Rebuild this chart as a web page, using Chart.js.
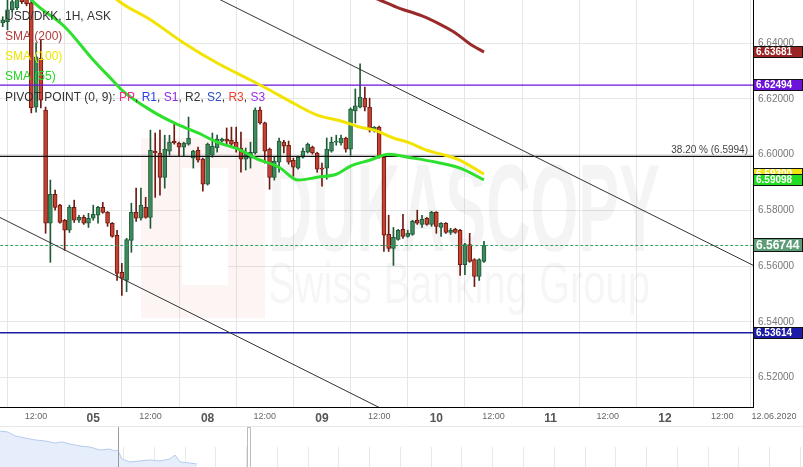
<!DOCTYPE html>
<html>
<head>
<meta charset="utf-8">
<script src="https://cdn.jsdelivr.net/npm/chart.js@4.4.1/dist/chart.umd.min.js"></script>
<style>
  html, body { margin: 0; padding: 0; background: #fff; overflow: hidden; }
  #main { position: absolute; left: 0; top: 0; width: 803px; height: 425px; }
  #nav { position: absolute; left: 0; top: 425px; width: 803px; height: 42px; }
</style>
</head>
<body>
<div id="main"><canvas id="chartMain"></canvas></div>
<div id="nav"><canvas id="chartNav"></canvas></div>
<script>
Chart.defaults.font.family = "'Liberation Sans', Arial, sans-serif";
Chart.defaults.color = '#666';

// USD/DKK 1H candles, index 0 = 04.06 05:00 (weekend squeezed out)
const opens = [
  6.6473, 6.6477, 6.6520, 6.6527, 6.6567, 6.6563, 6.6545, 6.6171, 6.6347, 6.6160,
  6.5754, 6.5858, 6.5819, 6.5765, 6.5729, 6.5811, 6.5765, 6.5775, 6.5754, 6.5772,
  6.5783, 6.5811, 6.5793, 6.5754, 6.5711, 6.5578, 6.5549, 6.5693, 6.5793, 6.5772,
  6.5811, 6.5775, 6.6013, 6.6006, 6.5919, 6.6013, 6.6049, 6.6042, 6.6027, 6.6038,
  6.5988, 6.6016, 6.5984, 6.5894, 6.5998, 6.6024, 6.6049, 6.6056, 6.6052, 6.6045,
  6.6024, 6.5984, 6.5988, 6.6006, 6.6160, 6.6114, 6.6020, 6.5919, 6.5973, 6.6045,
  6.6034, 6.5980, 6.5952, 6.5991, 6.6009, 6.6027, 6.6006, 6.5952, 6.5952, 6.6013,
  6.6045, 6.6042, 6.6060, 6.6020, 6.6157, 6.6171, 6.6203, 6.6171, 6.6088, 6.6099,
  6.5991, 6.5714, 6.5664, 6.5696, 6.5732, 6.5707, 6.5714, 6.5765, 6.5750, 6.5772,
  6.5750, 6.5793, 6.5739, 6.5754, 6.5721, 6.5732, 6.5729, 6.5606, 6.5678, 6.5624,
  6.5563, 6.5617
];
const highs = [
  6.6495, 6.6563, 6.6574, 6.6585, 6.6592, 6.6585, 6.6563, 6.6401, 6.6412, 6.6171,
  6.5909, 6.5873, 6.5822, 6.5768, 6.5819, 6.5837, 6.5783, 6.5783, 6.5790, 6.5819,
  6.5815, 6.5829, 6.5796, 6.5757, 6.5729, 6.5610, 6.5700, 6.5826, 6.5880, 6.5880,
  6.5847, 6.6088, 6.6078, 6.6088, 6.6070, 6.6070, 6.6114, 6.6045, 6.6045, 6.6135,
  6.6016, 6.6027, 6.5988, 6.6042, 6.6078, 6.6070, 6.6060, 6.6096, 6.6099, 6.6099,
  6.6081, 6.6024, 6.6045, 6.6168, 6.6171, 6.6117, 6.6024, 6.5991, 6.6060, 6.6052,
  6.6049, 6.5988, 6.5995, 6.6024, 6.6042, 6.6031, 6.6009, 6.5970, 6.6060, 6.6063,
  6.6070, 6.6070, 6.6063, 6.6168, 6.6236, 6.6326, 6.6243, 6.6203, 6.6101, 6.6103,
  6.5998, 6.5783, 6.5739, 6.5732, 6.5786, 6.5729, 6.5765, 6.5801, 6.5783, 6.5775,
  6.5797, 6.5796, 6.5757, 6.5757, 6.5736, 6.5736, 6.5732, 6.5682, 6.5718, 6.5627,
  6.5627, 6.5689
];
const lows = [
  6.6459, 6.6448, 6.6513, 6.6520, 6.6542, 6.6534, 6.6150, 6.6153, 6.6168, 6.5718,
  6.5614, 6.5801, 6.5754, 6.5657, 6.5721, 6.5757, 6.5757, 6.5750, 6.5739, 6.5765,
  6.5754, 6.5790, 6.5743, 6.5704, 6.5549, 6.5495, 6.5509, 6.5650, 6.5761, 6.5765,
  6.5772, 6.5736, 6.5847, 6.5855, 6.5880, 6.5998, 6.6038, 6.5995, 6.5995, 6.6034,
  6.5952, 6.5973, 6.5869, 6.5891, 6.5991, 6.6009, 6.6045, 6.6034, 6.6031, 6.6009,
  6.5937, 6.5945, 6.5952, 6.6002, 6.6110, 6.5970, 6.5876, 6.5909, 6.5937, 6.6006,
  6.5966, 6.5923, 6.5948, 6.5988, 6.6006, 6.6002, 6.5937, 6.5887, 6.5912, 6.6009,
  6.6034, 6.6034, 6.6009, 6.5998, 6.6114, 6.6168, 6.6157, 6.6081, 6.6081, 6.5988,
  6.5653, 6.5653, 6.5603, 6.5693, 6.5700, 6.5704, 6.5711, 6.5750, 6.5739, 6.5747,
  6.5743, 6.5718, 6.5707, 6.5718, 6.5714, 6.5718, 6.5567, 6.5570, 6.5614, 6.5527,
  6.5549, 6.5614
];
const closes = [
  6.6484, 6.6520, 6.6549, 6.6567, 6.6549, 6.6542, 6.6168, 6.6351, 6.6196, 6.5754,
  6.5858, 6.5811, 6.5757, 6.5729, 6.5811, 6.5765, 6.5775, 6.5754, 6.5772, 6.5786,
  6.5811, 6.5793, 6.5754, 6.5707, 6.5574, 6.5556, 6.5696, 6.5793, 6.5772, 6.5819,
  6.5775, 6.6016, 6.6006, 6.5919, 6.6020, 6.6045, 6.6042, 6.6027, 6.6042, 6.6060,
  6.6013, 6.5980, 6.5894, 6.6038, 6.6031, 6.6056, 6.6056, 6.6049, 6.6038, 6.6024,
  6.5984, 6.6006, 6.6009, 6.6160, 6.6114, 6.6013, 6.5919, 6.5977, 6.6049, 6.6031,
  6.5973, 6.5955, 6.5991, 6.6013, 6.6038, 6.6006, 6.5948, 6.5948, 6.6020, 6.6045,
  6.6049, 6.6060, 6.6020, 6.6164, 6.6175, 6.6207, 6.6171, 6.6088, 6.6099, 6.5991,
  6.5711, 6.5664, 6.5704, 6.5729, 6.5707, 6.5718, 6.5761, 6.5754, 6.5768, 6.5750,
  6.5793, 6.5743, 6.5754, 6.5721, 6.5729, 6.5721, 6.5606, 6.5678, 6.5617, 6.5563,
  6.5624, 6.56744
];

// moving averages (x = candle index)
const sma200X = [75, 79, 83, 88, 92, 95, 98, 101];
const sma200 = [6.6578, 6.6556, 6.6527, 6.6498, 6.6466, 6.6437, 6.6398, 6.63681];
const sma100X = [18, 24, 31, 38, 45, 52, 56, 61, 66, 71, 75, 78, 82, 85, 89, 92, 96, 101];
const sma100 = [6.6664, 6.6556, 6.6484, 6.6401, 6.6329, 6.6268, 6.6232, 6.6185, 6.6142, 6.6121,
                6.6099, 6.6088, 6.6060, 6.6045, 6.6016, 6.6002, 6.5980, 6.5930];
const sma55X = [3, 6, 13, 19, 23, 25, 31, 36, 41, 45, 50, 53, 58, 62, 66, 70, 73, 77, 81, 85, 91, 96, 101];
const sma55 = [6.6628, 6.6556, 6.6459, 6.6340, 6.6268, 6.6232, 6.6160, 6.6114, 6.6078, 6.6045,
               6.6016, 6.5988, 6.5955, 6.5909, 6.5919, 6.5930, 6.5959, 6.5980, 6.6002, 6.5991,
               6.5973, 6.5952, 6.59098];

// trend channel
const channelUpX = [40, 160];
const channelUp = [6.6604, 6.5582];
const channelLowX = [-2, 85];
const channelLow = [6.5787, 6.5042];

// levels
const fibLevel = 6.5994;
const pivotR = 6.62494;
const pivotS = 6.53614;
const lastPrice = closes[closes.length - 1];

const yTicks = [6.52, 6.54, 6.56, 6.58, 6.60, 6.62, 6.64];
const xTickValues = [7, 19, 31, 43, 55, 67, 79, 91, 103, 115, 127, 139, 151];
const xTickLabels = ['12:00', '05', '12:00', '08', '12:00', '09', '12:00', '10', '12:00', '11', '12:00', '12', '12:00'];
const endDateLabel = '12.06.2020';

// navigator strip
const navX = [0, 0.26, 0.49, 0.81, 1.14, 1.46, 1.79, 2.01, 2.27, 2.6, 2.92, 3.25, 3.57, 3.74, 3.83,
              3.96, 4.22, 4.55, 4.87, 5.2, 5.52, 5.69, 5.85, 6.17, 6.4];
const navVals = [6.714, 6.708, 6.685, 6.673, 6.661, 6.655, 6.643, 6.649, 6.637, 6.625, 6.619, 6.601, 6.607, 6.595, 6.601,
                 6.548, 6.530, 6.536, 6.542, 6.536, 6.548, 6.571, 6.530, 6.524, 6.518];

const X_MIN = -0.57, X_MAX = 157.46;

const upFill = '#3d8a5c', upLine = '#1f5a38';
const downFill = '#c7412f', downLine = '#6e1a12';
const isUp = i => closes[i] >= opens[i];

function levelLine(value, color, width, dash) {
    return {
        type: 'line',
        data: [{ x: X_MIN - 1, y: value }, { x: X_MAX + 1, y: value }],
        borderColor: color,
        borderWidth: width,
        borderDash: dash || [],
        pointRadius: 0,
        order: 2
    };
}

function smaLine(xs, ys, color) {
    return {
        type: 'line',
        data: xs.map((x, i) => ({ x: x, y: ys[i] })),
        borderColor: color,
        borderWidth: 3,
        pointRadius: 0,
        cubicInterpolationMode: 'monotone',
        order: 1
    };
}

const overlayPlugin = {
    id: 'overlay',
    beforeDatasetsDraw(chart) {
        const { ctx, chartArea: a } = chart;
        ctx.save();
        ctx.beginPath();
        ctx.rect(a.left, a.top, a.right - a.left, a.bottom - a.top);
        ctx.clip();
        // logo
        ctx.fillStyle = 'rgba(225, 70, 70, 0.06)';
        ctx.fillRect(141, 138, 124, 180);
        ctx.fillStyle = '#fff';
        ctx.fillRect(182, 168, 46, 117);
        // brand text
        ctx.fillStyle = 'rgba(0, 0, 0, 0.045)';
        ctx.font = "bold 125px 'Liberation Sans', Arial, sans-serif";
        let w = ctx.measureText('DUKASCOPY').width;
        ctx.save();
        ctx.translate(268, 251);
        ctx.scale(392 / w, 1);
        ctx.fillText('DUKASCOPY', 0, 0);
        ctx.restore();
        ctx.fillStyle = 'rgba(0, 0, 0, 0.035)';
        ctx.font = "57px 'Liberation Sans', Arial, sans-serif";
        w = ctx.measureText('Swiss Banking Group').width;
        ctx.save();
        ctx.translate(268, 303);
        ctx.scale(382 / w, 1);
        ctx.fillText('Swiss Banking Group', 0, 0);
        ctx.restore();
        ctx.restore();
    },
    afterDraw(chart) {
        const { ctx } = chart;
        const y = chart.scales.y;
        ctx.save();
        // legend
        ctx.textBaseline = 'alphabetic';
        ctx.font = "12px 'Liberation Sans', Arial, sans-serif";
        ctx.fillStyle = '#333';
        ctx.fillText('USD/DKK, 1H, ASK', 5, 20);
        ctx.fillStyle = '#b03a3a';
        ctx.fillText('SMA (200)', 5, 40);
        ctx.fillStyle = '#eee600';
        ctx.fillText('SMA (100)', 5, 60);
        ctx.fillStyle = '#22d622';
        ctx.fillText('SMA (55)', 5, 80);
        const pivotParts = [
            ['PIVOT POINT (0, 9): ', '#333'], ['PP', '#ee2d86'], [', ', '#333'],
            ['R1', '#2b3ee8'], [', ', '#333'], ['S1', '#8a2be2'], [', ', '#333'],
            ['R2', '#333'], [', ', '#333'], ['S2', '#2a4cc8'], [', ', '#333'],
            ['R3', '#ee4030'], [', ', '#333'], ['S3', '#9a30e8']
        ];
        let px = 5;
        pivotParts.forEach(([t, c]) => {
            ctx.fillStyle = c;
            ctx.fillText(t, px, 101);
            px += ctx.measureText(t).width;
        });

        // fibo label
        ctx.font = "10px 'Liberation Sans', Arial, sans-serif";
        ctx.fillStyle = '#444';
        ctx.textAlign = 'right';
        ctx.fillText('38.20 % (' + fibLevel.toFixed(4) + ')', 748, y.getPixelForValue(fibLevel) - 3);

        // end date under the axis
        ctx.textAlign = 'center';
        ctx.font = "9px 'Liberation Sans', Arial, sans-serif";
        ctx.fillStyle = '#666';
        ctx.textBaseline = 'top';
        ctx.fillText(endDateLabel, 774, 412);

        // price tags on the axis
        const tags = [
            [sma200[sma200.length - 1], '#9b2424', 12, 10],
            [pivotR, '#6c12dc', 12, 10],
            [sma100[sma100.length - 1], '#f0e410', 12, 10],
            [sma55[sma55.length - 1], '#22dd22', 12, 10],
            [lastPrice, '#5e9e76', 14, 12],
            [pivotS, '#1c1ca6', 12, 10]
        ];
        ctx.textAlign = 'left';
        ctx.textBaseline = 'middle';
        tags.forEach(([v, bg, h, fs]) => {
            const cy = Math.round(y.getPixelForValue(v));
            ctx.fillStyle = bg;
            ctx.fillRect(753, cy - h / 2, 50, h);
            ctx.strokeStyle = '#111';
            ctx.lineWidth = 1;
            ctx.strokeRect(753.5, cy - h / 2 + 0.5, 49, h - 1);
            ctx.fillStyle = '#fff';
            ctx.font = 'bold ' + fs + "px 'Liberation Sans', Arial, sans-serif";
            ctx.fillText(v.toFixed(5), 756, cy + 0.5);
        });
        ctx.restore();
    }
};

new Chart(document.getElementById('chartMain'), {
    type: 'bar',
    data: {
        datasets: [
            smaLine(sma200X, sma200, '#9a2a2a'),
            smaLine(sma100X, sma100, '#f2e400'),
            smaLine(sma55X, sma55, '#2ee02e'),
            {
                type: 'line',
                data: channelUpX.map((x, i) => ({ x: x, y: channelUp[i] })),
                borderColor: '#333', borderWidth: 1, pointRadius: 0, order: 2
            },
            {
                type: 'line',
                data: channelLowX.map((x, i) => ({ x: x, y: channelLow[i] })),
                borderColor: '#333', borderWidth: 1, pointRadius: 0, order: 2
            },
            levelLine(fibLevel, '#111', 1.3),
            levelLine(pivotR, '#6c12dc', 1.3),
            levelLine(pivotS, '#1c1ca6', 1.3),
            levelLine(lastPrice, '#33a05e', 1, [3, 2]),
            {
                // wicks
                data: opens.map((o, i) => ({ x: i, y: [lows[i], highs[i]] })),
                backgroundColor: opens.map((o, i) => isUp(i) ? upLine : downLine),
                barThickness: 1,
                grouped: false,
                order: 6
            },
            {
                // bodies
                data: opens.map((o, i) => ({ x: i, y: [o, closes[i]] })),
                backgroundColor: opens.map((o, i) => isUp(i) ? upFill : downFill),
                borderColor: opens.map((o, i) => isUp(i) ? upLine : downLine),
                borderWidth: 1,
                borderSkipped: false,
                barThickness: 4,
                grouped: false,
                order: 5
            }
        ]
    },
    options: {
        responsive: true,
        maintainAspectRatio: false,
        animation: false,
        layout: { padding: 0, autoPadding: false },
        plugins: {
            legend: { display: false },
            tooltip: { enabled: false }
        },
        scales: {
            x: {
                type: 'linear',
                min: X_MIN,
                max: X_MAX,
                offset: false,
                afterBuildTicks: s => { s.ticks = xTickValues.map(v => ({ value: v })); },
                afterFit: s => { s.height = 18; s.paddingLeft = 0; s.paddingRight = 0; },
                grid: { color: '#e6e6e6', drawTicks: false },
                border: { color: '#000', width: 1 },
                ticks: {
                    padding: 4,
                    maxRotation: 0,
                    autoSkip: false,
                    callback: v => xTickLabels[xTickValues.indexOf(v)],
                    font: ctx => {
                        const lbl = xTickLabels[ctx.index] || '';
                        return lbl.includes(':') ? { size: 9 } : { size: 12, weight: 'bold' };
                    },
                    color: ctx => ((xTickLabels[ctx.index] || '').includes(':') ? '#666' : '#555')
                }
            },
            y: {
                position: 'right',
                min: 6.5095,
                max: 6.6555,
                afterBuildTicks: s => { s.ticks = yTicks.map(v => ({ value: v })); },
                afterFit: s => { s.width = 50; s.paddingTop = 0; s.paddingBottom = 0; },
                grid: { color: '#e6e6e6', drawTicks: false },
                border: { color: '#000', width: 1 },
                ticks: {
                    padding: 5,
                    callback: v => v.toFixed(5),
                    font: { size: 10 },
                    color: '#777'
                }
            }
        }
    },
    plugins: [overlayPlugin]
});

// navigator
const navPlugin = {
    id: 'navDecor',
    beforeDatasetsDraw(chart) {
        const { ctx } = chart;
        const x = chart.scales.x;
        ctx.save();
        ctx.strokeStyle = '#e8e8e8';
        ctx.lineWidth = 1;
        ctx.beginPath();
        ctx.moveTo(0, 1.5);
        ctx.lineTo(803, 1.5);
        for (let k = 1; k <= 26; k++) {
            const px = Math.round(x.getPixelForValue(k)) + 0.5;
            ctx.moveTo(px, 22);
            ctx.lineTo(px, 42);
        }
        ctx.stroke();
        ctx.restore();
    },
    afterDraw(chart) {
        const { ctx } = chart;
        const x = chart.scales.x;
        ctx.save();
        ctx.strokeStyle = '#9a9a9a';
        ctx.lineWidth = 1;
        let px = Math.round(x.getPixelForValue(3.83)) + 0.5;
        ctx.beginPath();
        ctx.moveTo(px, 2);
        ctx.lineTo(px, 42);
        ctx.stroke();
        ctx.strokeStyle = '#bbb';
        px = Math.round(x.getPixelForValue(8.1));
        ctx.strokeRect(px - 1.5, 2.5, 3, 40);
        ctx.restore();
    }
};

new Chart(document.getElementById('chartNav'), {
    type: 'line',
    data: {
        datasets: [{
            data: navX.map((x, i) => ({ x: x, y: navVals[i] })),
            borderColor: '#b6cbee',
            borderWidth: 1,
            backgroundColor: '#e7eefb',
            fill: 'start',
            pointRadius: 0,
            tension: 0
        }]
    },
    options: {
        responsive: true,
        maintainAspectRatio: false,
        animation: false,
        layout: { padding: 0, autoPadding: false },
        plugins: { legend: { display: false }, tooltip: { enabled: false } },
        scales: {
            x: { type: 'linear', min: 0, max: 26.1, display: false },
            y: { min: 6.50, max: 6.75, display: false }
        }
    },
    plugins: [navPlugin]
});
</script>
</body>
</html>
